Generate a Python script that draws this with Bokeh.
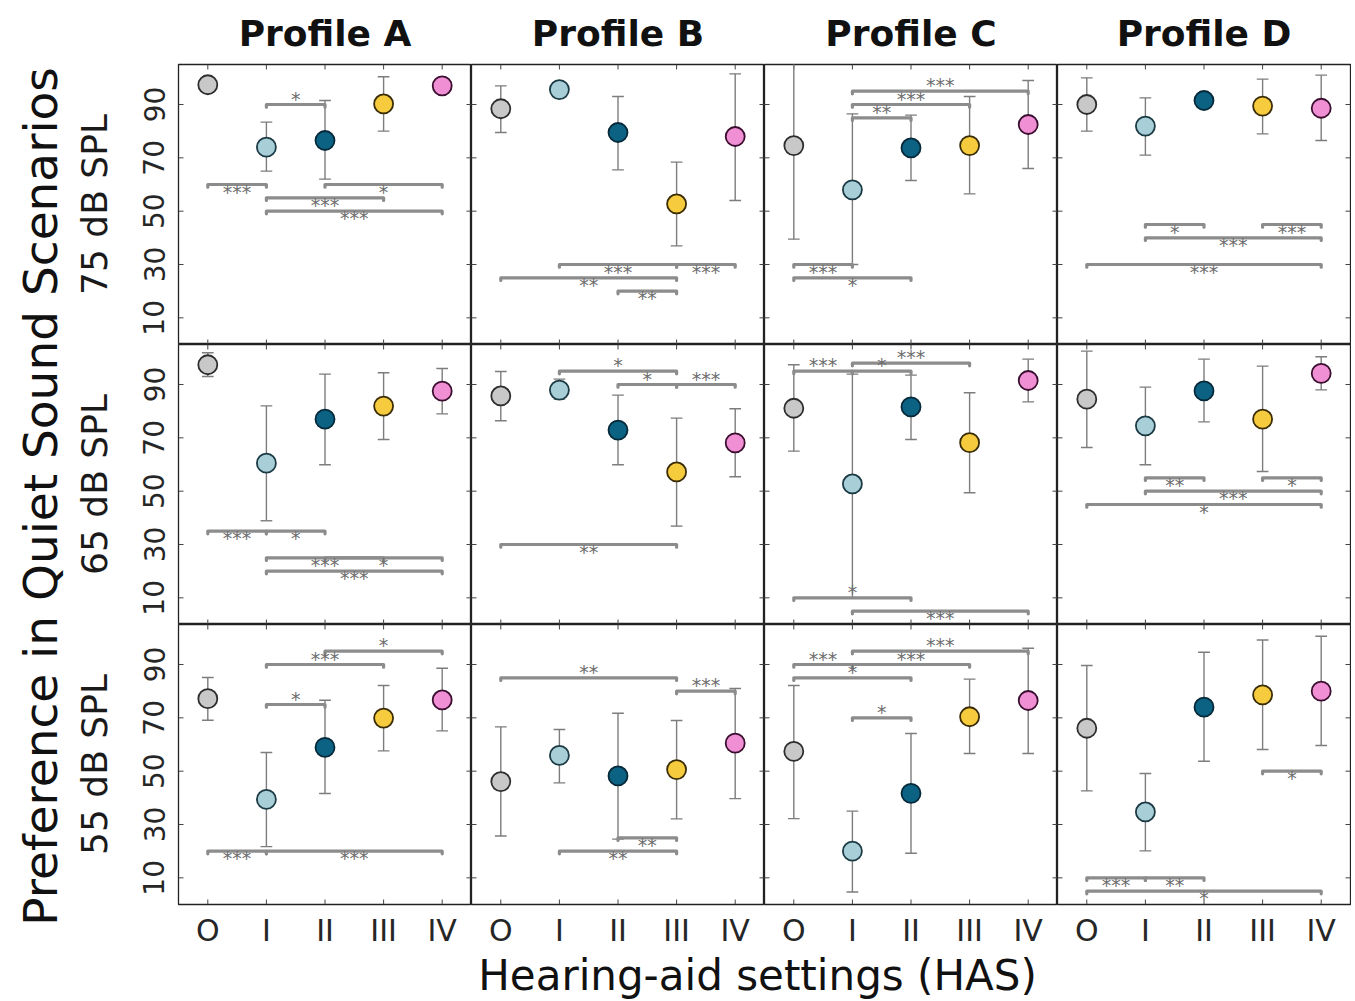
import math
from bokeh.plotting import figure
from bokeh.models import FixedTicker, Range1d
from bokeh.layouts import row, column
from bokeh.embed import file_html
from bokeh.resources import INLINE
from bokeh.core.properties import value

# ---------------- data ----------------
settings = ["O", "I", "II", "III", "IV"]
setting_pos = [1, 2, 3, 4, 5]
profiles = ["A", "B", "C", "D"]
profile_titles = ["Profile A", "Profile B", "Profile C", "Profile D"]
levels = ["75", "65", "55"]
level_labels = ["75 dB SPL", "65 dB SPL", "55 dB SPL"]
y_ticks = [10, 30, 50, 70, 90]
y_label = "Preference in Quiet Sound Scenarios"
x_label = "Hearing-aid settings (HAS)"

# 75 dB SPL
mean_75 = {"A": [97.4, 74.0, 76.5, 90.2, 97.0],
           "B": [88.4, 95.6, 79.5, 52.7, 78.0],
           "C": [74.6, 58.0, 73.7, 74.6, 82.5],
           "D": [90.0, 81.9, 91.5, 89.4, 88.6]}
hi_75 = {"A": [99.5, 83.4, 91.5, 100.4, 99.0],
         "B": [97.0, 97.5, 93.0, 68.4, 101.5],
         "C": [112.0, 86.5, 86.0, 93.0, 99.0],
         "D": [100.0, 92.5, 93.5, 99.5, 101.0]}
lo_75 = {"A": [95.5, 65.0, 62.0, 80.0, 95.0],
         "B": [79.5, 93.5, 65.5, 37.0, 54.0],
         "C": [39.5, 30.0, 61.5, 56.5, 66.0],
         "D": [80.0, 71.0, 89.5, 79.0, 76.5]}
# significance brackets: (from, to, level, stars, label side a=above b=below)
sig_75 = {"A": [(1, 2, 60, "***", "b"), (2, 3, 90, "*", "a"), (3, 5, 60, "*", "b"),
                (2, 4, 55, "***", "b"), (2, 5, 50, "***", "b")],
          "B": [(2, 4, 30, "***", "b"), (4, 5, 30, "***", "b"), (1, 4, 25, "**", "b"),
                (3, 4, 20, "**", "b")],
          "C": [(2, 5, 95, "***", "a"), (2, 4, 90, "***", "a"), (2, 3, 85, "**", "a"),
                (1, 2, 30, "***", "b"), (1, 3, 25, "*", "b")],
          "D": [(2, 3, 45, "*", "b"), (4, 5, 45, "***", "b"), (2, 5, 40, "***", "b"),
                (1, 5, 30, "***", "b")]}

# 65 dB SPL
mean_65 = {"A": [97.4, 60.5, 77.0, 81.9, 87.5],
           "B": [85.7, 87.9, 72.9, 57.2, 68.1],
           "C": [81.1, 52.7, 81.6, 68.2, 91.5],
           "D": [84.5, 74.5, 87.6, 77.0, 94.2]}
hi_65 = {"A": [101.9, 82.0, 93.9, 94.4, 96.0],
         "B": [94.9, 92.0, 86.0, 77.4, 80.9],
         "C": [97.4, 93.9, 93.5, 86.9, 99.5],
         "D": [102.5, 89.0, 99.5, 96.9, 100.4]}
lo_65 = {"A": [93.0, 38.9, 59.9, 69.4, 79.0],
         "B": [76.4, 84.5, 59.9, 36.9, 55.4],
         "C": [65.0, 10.0, 69.4, 49.4, 83.5],
         "D": [66.4, 59.9, 76.0, 57.4, 88.0]}
sig_65 = {"A": [(1, 2, 35, "***", "b"), (2, 3, 35, "*", "b"), (2, 4, 25, "***", "b"),
                (3, 5, 25, "*", "b"), (2, 5, 20, "***", "b")],
          "B": [(2, 4, 95, "*", "a"), (3, 4, 90, "*", "a"), (4, 5, 90, "***", "a"),
                (1, 4, 30, "**", "b")],
          "C": [(2, 4, 98, "***", "a"), (1, 2, 95, "***", "a"), (2, 3, 95, "*", "a"),
                (1, 3, 10, "*", "a"), (2, 5, 5, "***", "b")],
          "D": [(2, 3, 55, "**", "b"), (4, 5, 55, "*", "b"), (2, 5, 50, "***", "b"),
                (1, 5, 45, "*", "b")]}

# 55 dB SPL
mean_55 = {"A": [77.2, 39.4, 58.9, 69.9, 76.7],
           "B": [46.1, 55.9, 48.2, 50.6, 60.5],
           "C": [57.4, 20.0, 41.7, 70.4, 76.5],
           "D": [66.1, 34.7, 74.0, 78.6, 80.0]}
hi_55 = {"A": [85.1, 57.0, 76.6, 82.1, 88.6],
         "B": [66.6, 65.6, 71.7, 69.0, 81.0],
         "C": [82.1, 35.0, 64.1, 84.5, 96.1],
         "D": [89.6, 49.1, 94.6, 99.2, 100.6]}
lo_55 = {"A": [69.1, 21.7, 41.6, 57.6, 65.1],
         "B": [25.7, 45.6, 24.5, 32.1, 39.7],
         "C": [32.2, 4.7, 19.2, 56.6, 56.6],
         "D": [42.6, 20.1, 53.7, 58.1, 59.6]}
sig_55 = {"A": [(3, 5, 95, "*", "a"), (2, 4, 90, "***", "a"), (2, 3, 75, "*", "a"),
                (1, 2, 20, "***", "b"), (2, 5, 20, "***", "b")],
          "B": [(1, 4, 85, "**", "a"), (4, 5, 80, "***", "a"), (3, 4, 25, "**", "b"),
                (2, 4, 20, "**", "b")],
          "C": [(2, 5, 95, "***", "a"), (1, 2, 90, "***", "a"), (2, 4, 90, "***", "a"),
                (1, 3, 85, "*", "a"), (2, 3, 70, "*", "a")],
          "D": [(4, 5, 50, "*", "b"), (1, 2, 10, "***", "b"), (2, 3, 10, "**", "b"),
                (1, 5, 5, "*", "b")]}

means = {"75": mean_75, "65": mean_65, "55": mean_55}
highs = {"75": hi_75, "65": hi_65, "55": hi_55}
lows = {"75": lo_75, "65": lo_65, "55": lo_55}
sigs = {"75": sig_75, "65": sig_65, "55": sig_55}

fill_colors = ["#c8c8c8", "#a8ced8", "#0b6282", "#f6cb3e", "#f08fd4"]
edge_colors = ["#2e2e2e", "#1b3a43", "#06293a", "#3a2d06", "#3a0e2e"]

# ---------------- style ----------------
FONT = "DejaVu Sans"
FW, FH = 293, 280
X_MIN, X_MAX, Y_MIN, Y_MAX = 0.5, 5.5, 0, 105
LEFT_B, TOP_B, BOT_B, RIGHT_B = 108, 62, 40, 1
YL_W = 70
TICK_PX = 5
EB_COLOR = "#7d7d7d"
BR_COLOR = "#8c8c8c"
STAR_COLOR = "#6e6e6e"
TICK_COLOR = "#444444"


def make_panel(r, c):
    lev = levels[r]
    prof = profiles[c]
    m = means[lev][prof]
    hi = highs[lev][prof]
    lo = lows[lev][prof]

    kw = dict(frame_width=FW, frame_height=FH,
              x_range=Range1d(X_MIN, X_MAX), y_range=Range1d(Y_MIN, Y_MAX),
              output_backend="svg", toolbar_location=None,
              min_border_left=LEFT_B if c == 0 else 0,
              min_border_right=RIGHT_B if c == 3 else 0,
              min_border_top=TOP_B if r == 0 else 0,
              min_border_bottom=BOT_B if r == 2 else 0,
              background_fill_color="white", border_fill_color="white")
    kw["title"] = profile_titles[c] if r == 0 else None
    p = figure(**kw)
    p.grid.visible = False
    p.outline_line_color = "#222222"
    p.outline_line_width = 1.3

    if r == 0:
        p.title.align = "center"
        p.title.text_font = FONT
        p.title.text_font_size = "36px"
        p.title.text_font_style = "bold"
        p.title.text_color = "#111111"
        p.title.standoff = 21

    # axes (labels only; inward ticks drawn below)
    xax = p.xaxis[0]
    yax = p.yaxis[0]
    for ax in (xax, yax):
        ax.major_tick_line_color = None
        ax.minor_tick_line_color = None
        ax.axis_line_color = None
    xax.ticker = FixedTicker(ticks=setting_pos)
    xax.major_label_overrides = {pos: s for pos, s in zip(setting_pos, settings)}
    yax.ticker = FixedTicker(ticks=y_ticks)
    if r == 2:
        xax.major_label_text_font = FONT
        xax.major_label_text_font_size = "30px"
        xax.major_label_text_color = "#262626"
        xax.major_label_standoff = 2
    else:
        xax.visible = False
    if c == 0:
        yax.major_label_text_font = FONT
        yax.major_label_text_font_size = "28px"
        yax.major_label_text_color = "#262626"
        yax.major_label_orientation = "vertical"
        yax.major_label_standoff = 8
        yax.axis_label = level_labels[r]
        yax.axis_label_text_font = FONT
        yax.axis_label_text_font_size = "36px"
        yax.axis_label_text_font_style = "normal"
        yax.axis_label_text_color = "#1a1a1a"
        yax.axis_label_standoff = 26
    else:
        yax.visible = False

    # inward ticks on all four sides of the box
    dx = TICK_PX * (X_MAX - X_MIN) / FW
    dy = TICK_PX * (Y_MAX - Y_MIN) / FH
    n_x, n_y = len(setting_pos), len(y_ticks)
    p.segment(x0=setting_pos * 2, x1=setting_pos * 2,
              y0=[Y_MIN] * n_x + [Y_MAX] * n_x,
              y1=[Y_MIN + dy] * n_x + [Y_MAX - dy] * n_x,
              line_color=TICK_COLOR, line_width=1)
    p.segment(y0=y_ticks * 2, y1=y_ticks * 2,
              x0=[X_MIN] * n_y + [X_MAX] * n_y,
              x1=[X_MIN + dx] * n_y + [X_MAX - dx] * n_y,
              line_color=TICK_COLOR, line_width=1)

    # error bars
    p.segment(x0=setting_pos, y0=lo, x1=setting_pos, y1=hi,
              line_color=EB_COLOR, line_width=1.4)
    cap_x0 = [x - 0.1 for x in setting_pos]
    cap_x1 = [x + 0.1 for x in setting_pos]
    p.segment(x0=cap_x0, y0=hi, x1=cap_x1, y1=hi, line_color=EB_COLOR, line_width=1.4)
    p.segment(x0=cap_x0, y0=lo, x1=cap_x1, y1=lo, line_color=EB_COLOR, line_width=1.4)

    # significance brackets
    bxs, bys = [], []
    for a, b, yv, lab, side in sigs[lev][prof]:
        bxs.append([a, a, b, b])
        bys.append([yv - 1.0, yv, yv, yv - 1.0])
    p.multi_line(xs=bxs, ys=bys, line_color=BR_COLOR, line_width=3.2,
                 line_cap="round", line_join="round")
    for side, off in (("a", -6), ("b", 7)):
        items = [s for s in sigs[lev][prof] if s[4] == side]
        if not items:
            continue
        p.text(x=[(s[0] + s[1]) / 2 for s in items], y=[s[2] for s in items],
               text=[s[3] for s in items], text_align="center",
               text_baseline="alphabetic", y_offset=off,
               text_font=value(FONT), text_font_size="19px", text_color=STAR_COLOR)

    # means
    p.scatter(x=setting_pos, y=m, size=19, marker="circle",
              fill_color=fill_colors, line_color=edge_colors, line_width=1.8)
    return p


rows = []
for r in range(3):
    rows.append(row(*[make_panel(r, c) for c in range(4)]))
grid = column(*rows)

GRID_H = TOP_B + 3 * FH + BOT_B
GRID_W = LEFT_B + 4 * FW + RIGHT_B
XL_H = 49

ylab = figure(width=YL_W, height=GRID_H + 8, x_range=Range1d(0, YL_W),
              y_range=Range1d(0, GRID_H + 8),
              x_axis_type=None, y_axis_type=None, output_backend="svg",
              toolbar_location=None, min_border=0)
ylab.outline_line_color = None
ylab.text(x=[40], y=[GRID_H + 8 - 496], text=[y_label],
          angle=math.pi / 2, text_align="center", text_baseline="middle",
          text_font=value(FONT), text_font_size="47px", text_color="#111111")

xlab = figure(width=GRID_W, height=XL_H, x_range=Range1d(0, GRID_W), y_range=Range1d(0, XL_H),
              x_axis_type=None, y_axis_type=None, output_backend="svg",
              toolbar_location=None, min_border=0)
xlab.outline_line_color = None
xlab.text(x=[757 - YL_W], y=[XL_H * 0.5], text=[x_label],
          text_align="center", text_baseline="middle",
          text_font=value(FONT), text_font_size="42px", text_color="#111111")

layout = row(ylab, column(grid, xlab))

open("out.html", "w").write(file_html(layout, INLINE))
